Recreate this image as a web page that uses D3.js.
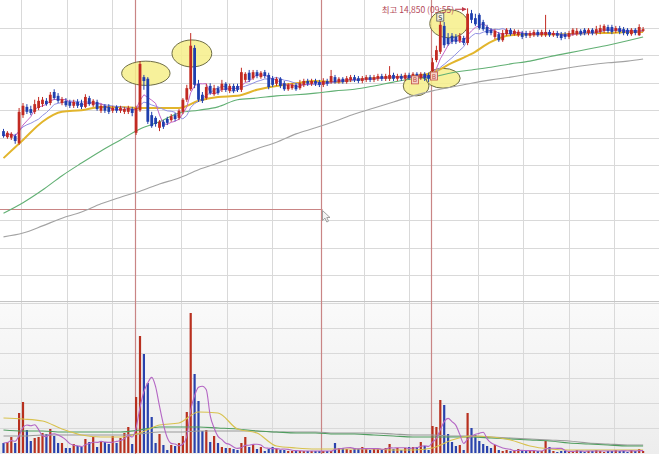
<!DOCTYPE html>
<html><head><meta charset="utf-8">
<script src="https://cdn.jsdelivr.net/npm/d3@7"></script>
<style>body{margin:0;background:#fff;overflow:hidden}svg{display:block}</style>
</head><body>
<svg id="c" width="659" height="454"></svg>
<script>
// ---------- DATA ----------
// candles: [open, high, low, close]
const candles = [
[12620,12660,12500,12530],[12510,12620,12480,12590],[12500,12600,12460,12570],[12530,12570,12390,12440],[12400,13040,12370,12970],
[12910,13130,12860,13080],[13060,13110,12930,12970],[13020,13080,12910,12950],[12970,13190,12930,13110],[13040,13240,13000,13170],
[13110,13240,13060,13190],[13170,13220,13080,13110],[13130,13330,13090,13280],[13330,13380,13190,13220],[13260,13310,13130,13170],
[13130,13240,13090,13200],[13170,13220,13060,13090],[13150,13190,13040,13080],[13080,13190,13040,13150],[13150,13200,13040,13080],
[13130,13190,13020,13060],[13060,13290,13040,13240],[13220,13260,13080,13110],[13090,13200,13060,13170],[13150,13190,12990,13020],
[12990,13110,12950,13080],[13080,13110,12950,12990],[13060,13110,12930,12970],[12990,13080,12950,13040],[13060,13090,12950,12990],
[12990,13080,12950,13040],[12970,13060,12930,13020],[12970,13080,12930,13040],[13020,13060,12890,12950],[12590,13080,12550,13040],
[13000,13890,12970,13840],[13600,13640,13370,13530],[13570,13600,12750,12790],[12910,12970,12680,12710],[12860,12890,12700,12750],
[12680,12820,12620,12790],[12790,12820,12660,12700],[12840,12880,12730,12770],[12820,12930,12790,12890],[12910,12950,12800,12840],
[12860,13020,12820,12990],[12970,13220,12930,13190],[13190,13460,13150,13400],[13380,14400,13350,14170],[14130,14180,13400,13460],
[13480,13550,13150,13190],[13280,13330,13130,13170],[13220,13480,13190,13420],[13440,13490,13280,13310],[13290,13460,13260,13400],
[13400,13440,13280,13310],[13370,13550,13330,13480],[13480,13510,13330,13370],[13350,13480,13310,13440],[13440,13480,13310,13350],
[13440,13480,13330,13370],[13370,13770,13330,13690],[13550,13690,13510,13660],[13680,13730,13510,13550],[13580,13730,13550,13690],
[13690,13730,13580,13620],[13600,13710,13570,13680],[13690,13730,13580,13620],[13640,13680,13380,13420],[13580,13620,13420,13460],
[13480,13600,13440,13570],[13570,13600,13400,13440],[13490,13530,13350,13380],[13380,13490,13350,13460],[13400,13490,13370,13460],
[13460,13490,13350,13380],[13400,13550,13370,13490],[13460,13570,13420,13530],[13530,13570,13440,13480],[13480,13570,13440,13530],
[13530,13570,13440,13480],[13510,13550,13420,13460],[13460,13580,13420,13530],[13530,13570,13440,13480],[13510,13730,13480,13620],
[13600,13640,13480,13510],[13510,13600,13480,13570],[13570,13600,13480,13510],[13510,13620,13480,13580],[13550,13640,13510,13600],
[13600,13640,13510,13550],[13580,13620,13490,13530],[13530,13620,13490,13580],[13550,13640,13510,13600],[13600,13640,13510,13550],
[13550,13640,13510,13600],[13570,13660,13530,13620],[13620,13660,13530,13570],[13570,13660,13530,13620],[13570,13800,13530,13640],
[13640,13680,13530,13570],[13570,13660,13530,13620],[13620,13660,13530,13570],[13570,13680,13530,13640],[13640,13680,13550,13580],
[13580,13690,13550,13660],[13660,13690,13550,13580],[13580,13690,13550,13660],[13660,13690,13530,13580],[13640,13680,13510,13570],
[13710,13950,13580,13870],[13910,14170,13870,14090],[14060,14670,14020,14550],[14530,14600,14130,14180],[14310,14400,14170,14200],
[14350,14400,14200,14240],[14330,14380,14200,14240],[14260,14400,14220,14350],[14310,14350,14180,14220],[14220,14850,14180,14750],
[14760,14820,14580,14640],[14670,14750,14530,14560],[14730,14760,14460,14490],[14600,14640,14440,14470],[14510,14550,14360,14400],
[14460,14490,14360,14400],[14330,14470,14290,14440],[14380,14420,14240,14270],[14270,14460,14240,14400],[14380,14490,14350,14460],
[14460,14490,14350,14380],[14380,14470,14350,14440],[14360,14460,14330,14420],[14400,14440,14290,14330],[14400,14440,14310,14350],
[14350,14440,14310,14400],[14360,14460,14330,14420],[14420,14460,14330,14360],[14360,14460,14330,14420],[14360,14730,14330,14420],
[14420,14460,14330,14360],[14360,14440,14330,14400],[14400,14440,14310,14350],[14380,14420,14270,14310],[14380,14420,14290,14330],
[14330,14440,14290,14400],[14380,14490,14350,14460],[14380,14490,14350,14440],[14440,14470,14350,14380],[14460,14490,14360,14400],
[14400,14490,14360,14460],[14460,14490,14360,14400],[14400,14530,14360,14470],[14420,14550,14380,14490],[14440,14560,14400,14530],
[14510,14550,14400,14440],[14510,14550,14380,14420],[14440,14530,14400,14490],[14490,14530,14380,14420],[14470,14510,14360,14400],
[14460,14490,14350,14380],[14380,14490,14350,14460],[14460,14490,14360,14400],[14360,14560,14350,14510],[14440,14510,14420,14470]
];
// volume, thousand shares
const volumes = [
100,110,160,100,400,510,230,120,150,160,
200,190,240,170,100,100,50,50,90,70,
60,140,110,160,60,110,110,90,170,100,
150,200,260,90,560,1170,990,700,360,100,
190,80,30,80,70,100,170,410,1400,790,
520,220,230,110,170,100,60,50,50,40,
30,100,160,60,80,40,60,20,40,60,
40,30,30,20,20,20,20,20,20,20,
20,20,20,20,20,100,50,50,40,30,
50,40,60,40,30,50,40,30,50,90,
40,50,30,50,60,60,60,110,70,30,
270,260,530,480,190,110,70,80,30,400,
250,180,120,90,70,50,80,30,20,30,
20,20,40,20,20,20,20,20,20,120,
60,20,10,20,20,10,20,30,20,10,
20,20,30,20,10,20,20,30,20,20,
10,30,20,40,20
];
// long moving averages at these candle indices
const maIdx = [0,5,10,15,20,25,30,35,40,45,50,55,60,65,70,75,80,85,90,95,100,105,110,115,120,125,130,135,140,145,150,155,160,164];
const ma20  = [12130,12460,12790,12970,13000,13060,13060,13040,13040,13040,13170,13240,13260,13370,13440,13490,13530,13510,13550,13580,13600,13620,13680,13860,14020,14240,14360,14380,14380,14380,14400,14400,14420,14420];
const ma60  = [11130,11320,11550,11810,12040,12260,12460,12660,12790,12950,13000,13060,13190,13220,13260,13280,13310,13350,13380,13440,13510,13570,13600,13680,13730,13780,13840,13890,13970,14040,14110,14180,14260,14330];
const ma120 = [10700,10770,10900,11040,11150,11300,11420,11530,11660,11770,11920,12040,12170,12300,12420,12570,12680,12800,12930,13040,13150,13260,13350,13420,13490,13550,13600,13660,13710,13770,13820,13860,13890,13930];
const vma20  = [350,340,320,240,180,160,160,200,280,300,410,400,240,200,70,50,40,40,40,40,30,30,50,130,170,160,130,70,40,30,30,30,30,30];
const vma60  = [230,220,220,210,210,210,210,230,260,260,260,250,240,220,210,200,200,190,190,180,170,160,160,160,160,150,140,130,120,100,90,80,70,70];
const vma120 = [170,170,180,180,180,180,180,190,210,210,220,220,220,220,210,210,210,200,200,200,190,180,180,170,170,160,150,140,130,120,100,90,80,80];
const priceTicks = [10000,10500,11000,11500,12000,12500,13000,13500,14000,14500];
const volTicks = [250,500,750,1000,1250,1500];
const gridIdx = [4.49,16.33,27.87,45.44,57.28,68.92,92.41,103.92,121.59,133.23,145.08,156.62];
const markIdx = [33.7,81.3,109.74];
const crossPrice = 11200;
const highIdx = 119, highPrice = 14850;
const highLabel = "최고 14,850 (09:55)";
// user-drawn ellipses: [centre index, centre price, half width (candles), half height (price)]
const ellipses = [[36.5,13670,6.2,220],[48.3,14030,5.1,245],[114.2,14570,4.9,255],[105.8,13440,3.3,180],[112.7,13580,4.4,180]];
const signals = [[105.5,13550,"B"],[110.4,13620,"B"],[112,14690,"S"]];

// ---------- DRAW ----------
const W = 659, H = 454, VTOP = 301;
const svg = d3.select("#c");
const n = candles.length;
const x = d3.scaleLinear().domain([0, n-1]).range([3.5, 3.5 + 3.9*(n-1)]);
const y = d3.scaleLinear().domain([9600, 15000]).range([297.5, 0]);
const yv = d3.scaleLinear().domain([0, 1520]).range([453, VTOP]);
const px = v => Math.round(v) + 0.5;
const UP = "#c22a22", DN = "#1f3fae";

const defs = svg.append("defs");
const g1 = defs.append("linearGradient").attr("id","vg").attr("x1",0).attr("y1",0).attr("x2",0).attr("y2",1);
g1.append("stop").attr("offset","0").attr("stop-color","#fafafa");
g1.append("stop").attr("offset","1").attr("stop-color","#ededed");

svg.append("rect").attr("width",W).attr("height",VTOP).attr("fill","#ffffff");
svg.append("rect").attr("y",VTOP).attr("width",W).attr("height",H-VTOP).attr("fill","url(#vg)");

// grid
const grid = svg.append("g").attr("stroke","#d9d9d9").attr("stroke-width",1);
priceTicks.forEach(t => grid.append("line").attr("x1",0).attr("x2",W).attr("y1",px(y(t))).attr("y2",px(y(t))));
volTicks.forEach(t => grid.append("line").attr("x1",0).attr("x2",W).attr("y1",px(yv(t))).attr("y2",px(yv(t))));
gridIdx.forEach(g => grid.append("line").attr("x1",px(x(g))).attr("x2",px(x(g))).attr("y1",0).attr("y2",H));
svg.append("line").attr("x1",0).attr("x2",W).attr("y1",VTOP+0.5).attr("y2",VTOP+0.5).attr("stroke","#c4c4c4");

// user lines
markIdx.forEach(m => svg.append("line").attr("x1",px(x(m))).attr("x2",px(x(m))).attr("y1",0).attr("y2",H)
  .attr("stroke","#c98585").attr("stroke-width",1.2));
svg.append("line").attr("x1",0).attr("x2",x(markIdx[1])+2).attr("y1",px(y(crossPrice))).attr("y2",px(y(crossPrice)))
  .attr("stroke","#c98585").attr("stroke-width",1.2);

// ellipses
ellipses.forEach(e => {
  const cx = x(e[0]), cy = y(e[1]);
  svg.append("ellipse").attr("cx",cx).attr("cy",cy)
    .attr("rx",x(e[0]+e[2]) - cx).attr("ry",y(e[1]-e[3]) - cy)
    .attr("fill","#f6ef8a").attr("fill-opacity",0.85).attr("stroke","#6e6d45").attr("stroke-width",1);
});

// moving averages
const lineS = d3.line().x(d => x(d[0])).y(d => y(d[1])).curve(d3.curveMonotoneX);
const lineV = d3.line().x(d => x(d[0])).y(d => yv(d[1])).curve(d3.curveMonotoneX);
const pairs = arr => arr.map((v,i) => [maIdx[i], v]);
const rolling = (arr, k) => arr.map((_, i) => { const s = Math.max(0, i-k+1); return [i, d3.mean(arr.slice(s, i+1))]; });
const closes = candles.map(c => c[3]);

svg.append("path").attr("d", lineS(pairs(ma120))).attr("fill","none").attr("stroke","#a3a3a3").attr("stroke-width",1.1);
svg.append("path").attr("d", lineS(pairs(ma60))).attr("fill","none").attr("stroke","#62b074").attr("stroke-width",1.1);
svg.append("path").attr("d", lineS(pairs(ma20))).attr("fill","none").attr("stroke","#e2b52c").attr("stroke-width",2);
svg.append("path").attr("d", d3.line().x(d=>x(d[0])).y(d=>y(d[1]))(rolling(closes,10))).attr("fill","none").attr("stroke","#9191e4").attr("stroke-width",1);
svg.append("path").attr("d", d3.line().x(d=>x(d[0])).y(d=>y(d[1]))(rolling(closes,5))).attr("fill","none").attr("stroke","#c466c8").attr("stroke-width",1);

// candles
const cg = svg.append("g");
candles.forEach((c, i) => {
  const [o, h, l, cl] = c;
  const col = cl >= o ? UP : DN;
  const cx = x(i);
  cg.append("line").attr("x1",cx).attr("x2",cx).attr("y1",y(h)).attr("y2",y(l)).attr("stroke",col).attr("stroke-width",1);
  const top = y(Math.max(o, cl)), bot = y(Math.min(o, cl));
  cg.append("rect").attr("x",cx-1.4).attr("width",2.8).attr("y",top).attr("height",Math.max(1, bot-top)).attr("fill",col);
});

// signals
signals.forEach(s => {
  const sx = x(s[0]), sy = y(s[1]);
  const isB = s[2] === "B";
  svg.append("rect").attr("x",sx-3.5).attr("y",sy-4).attr("width",7).attr("height",8)
    .attr("fill", isB ? "#f6d2c8" : "#f2f2e6").attr("stroke", isB ? "#c0504a" : "#555").attr("stroke-width",0.8);
  svg.append("text").attr("x",sx).attr("y",sy+2.6).attr("text-anchor","middle")
    .attr("font-family","DejaVu Sans, sans-serif").attr("font-size",6.5).attr("fill", isB ? "#c0504a" : "#333").text(s[2]);
});

// high label
const hx = x(highIdx) - 1.5, hy = y(highPrice);
defs.append("marker").attr("id","ah").attr("viewBox","0 0 6 6").attr("refX",5.5).attr("refY",3)
  .attr("markerWidth",5).attr("markerHeight",5).attr("orient","auto")
  .append("path").attr("d","M0,0L6,3L0,6Z").attr("fill","#c03848");
svg.append("line").attr("x1",hx-11).attr("x2",hx).attr("y1",hy+1).attr("y2",hy+1)
  .attr("stroke","#c03848").attr("stroke-width",1).attr("marker-end","url(#ah)");
svg.append("text").attr("x",hx-12).attr("y",hy+4.5).attr("text-anchor","end")
  .attr("font-family","'Noto Sans CJK KR', sans-serif").attr("font-size",8.5).attr("fill","#b44858").text(highLabel);

// volume bars
const vg = svg.append("g");
volumes.forEach((v, i) => {
  const c = candles[i];
  vg.append("rect").attr("x",x(i)-1.1).attr("width",2.2).attr("y",yv(v)).attr("height",yv(0)-yv(v))
    .attr("fill", c[3] >= c[0] ? "#b8301f" : "#2a42ac");
});

// volume averages
svg.append("path").attr("d", lineV(pairs(vma120))).attr("fill","none").attr("stroke","#9a9a9a").attr("stroke-width",1.1);
svg.append("path").attr("d", lineV(pairs(vma60))).attr("fill","none").attr("stroke","#4f9d5f").attr("stroke-width",1.1);
svg.append("path").attr("d", lineV(pairs(vma20))).attr("fill","none").attr("stroke","#d8c24e").attr("stroke-width",1.2);
svg.append("path").attr("d", d3.line().x(d=>x(d[0])).y(d=>yv(d[1])).curve(d3.curveMonotoneX)(rolling(volumes,5)))
  .attr("fill","none").attr("stroke","#b466c4").attr("stroke-width",1.1);

// mouse cursor at the crosshair
const curX = px(x(markIdx[1])) + 1, curY = px(y(crossPrice)) + 1;
svg.append("path").attr("transform",`translate(${curX},${curY})`)
  .attr("d","M0,0L0,10L2.5,7.7L4.3,11.5L6,10.7L4.3,7L7.5,7Z")
  .attr("fill","#f4f4f4").attr("stroke","#8a8a8a").attr("stroke-width",0.8);
</script>
</body></html>
